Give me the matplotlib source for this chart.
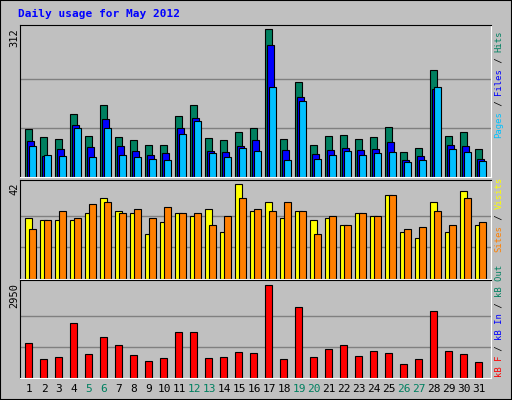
import matplotlib
matplotlib.use("Agg")
import matplotlib.pyplot as plt

days = list(range(1, 32))
weekends = [5, 6, 12, 13, 19, 20, 26, 27]
hits = [102,85,81,132,87,153,85,79,68,68,129,153,83,79,96,104,312,81,200,68,87,89,81,85,106,53,62,225,87,96,59]
files = [76,45,59,110,64,123,66,55,47,51,104,125,55,53,66,79,278,57,168,49,57,62,57,59,74,36,45,185,68,66,38]
pages = [66,47,45,104,42,104,47,42,38,36,91,119,51,42,62,55,191,36,161,38,47,55,47,51,53,32,36,191,59,53,34]
visits = [27,26,26,26,29,36,30,29,20,25,29,28,31,21,42,30,34,27,30,26,27,24,29,28,37,21,18,34,21,39,24]
sites = [22,26,30,27,33,34,29,31,27,32,29,29,24,28,36,31,30,34,30,20,28,24,29,28,37,22,23,30,24,36,25]
kbytes = [1109,592,657,1723,754,1303,1045,722,528,625,1465,1465,625,657,818,786,2950,592,2240,657,915,1045,689,851,786,431,592,2111,851,754,495]

W, H = 512, 400
fig = plt.figure(figsize=(W/100, H/100), dpi=100)
fig.patch.set_facecolor('#c0c0c0')
fig.add_artist(plt.Rectangle((0, 0), 1, 1, transform=fig.transFigure, fill=False, ec='black', lw=1.5))

MONO = 'DejaVu Sans Mono'
x0 = [d - 1 for d in days]
xl = (-0.353, 31.05)

def mkax(top, bot):
    ax = fig.add_axes([20/W, 1 - bot/H, 471/W, (bot - top)/H])
    ax.set_facecolor('#c0c0c0')
    ax.set_xlim(*xl)
    ax.set_xticks([]); ax.set_yticks([])
    for s in ['top', 'left']:
        ax.spines[s].set_color('black')
    for s in ['bottom', 'right']:
        ax.spines[s].set_color('white')
    return ax

bw = 0.47
ax1 = mkax(25, 177)
ax1.set_ylim(0, 321)
for g in (104, 208):
    ax1.axhline(g, color='#808080', lw=1, zorder=0)
ax1.bar(x0, hits, bw, align='edge', color='#008060', ec='black', lw=0.8)
ax1.bar([x + 0.13 for x in x0], files, bw, align='edge', color='#0000ff', ec='black', lw=0.8)
ax1.bar([x + 0.27 for x in x0], pages, bw, align='edge', color='#00c0ff', ec='black', lw=0.8)

ax2 = mkax(180, 279)
ax2.set_ylim(0, 43.8)
for g in (14, 28):
    ax2.axhline(g, color='#808080', lw=1, zorder=0)
ax2.bar(x0, visits, bw, align='edge', color='#ffff00', ec='black', lw=0.8)
ax2.bar([x + 0.27 for x in x0], sites, bw, align='edge', color='#ff8000', ec='black', lw=0.8)

ax3 = mkax(280, 378)
ax3.set_ylim(0, 3092)
for g in (983, 1967):
    ax3.axhline(g, color='#808080', lw=1, zorder=0)
ax3.bar(x0, kbytes, bw, align='edge', color='#ff0000', ec='black', lw=0.8)

fig.text(18/W, 1 - 14/H, 'Daily usage for May 2012', color='#0000ff', fontsize=8,
         fontweight='bold', family=MONO, va='center', ha='left')

for txt, y in (('312', 28), ('42', 182), ('2950', 283)):
    fig.text(14/W, 1 - y/H, txt, rotation=90, fontsize=7.5, family=MONO,
             va='top', ha='center', color='black')

for d in days:
    xp = 20 + (d - 1 + 0.25 + 0.353) * 15
    fig.text(xp/W, 1 - 389/H, str(d), fontsize=8, family=MONO, ha='center', va='center',
             color='#008060' if d in weekends else 'black')

def vlabel(parts, ybottom, fs=6.4):
    cw = 0.602 * fs * 100 / 72
    y = ybottom
    for txt, col in parts:
        fig.text(499/W, 1 - y/H, txt, rotation=90, fontsize=fs, family=MONO,
                 color=col, ha='center', va='bottom')
        y -= cw * len(txt)

vlabel([('Pages', '#00c0ff'), (' / ', 'black'), ('Files', '#0000ff'), (' / ', 'black'), ('Hits', '#008060')], 138)
vlabel([('Sites', '#ff8000'), (' / ', 'black'), ('Visits', '#ffff00')], 252)
vlabel([('kB F', '#ff0000'), (' / ', 'black'), ('kB In', '#0000ff'), (' / ', 'black'), ('kB Out', '#008060')], 377)

fig.savefig('out.png', dpi=100, facecolor=fig.get_facecolor())
